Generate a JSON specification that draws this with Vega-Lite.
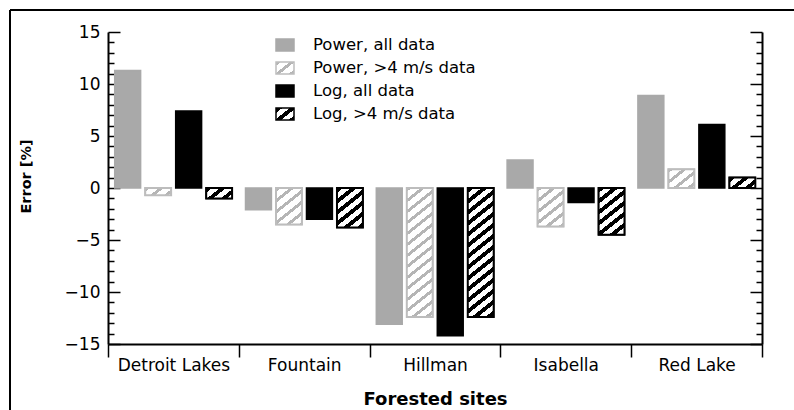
{
  "$schema": "https://vega.github.io/schema/vega-lite/v6.json",
  "width": 784,
  "height": 400,
  "autosize": {"type": "none"},
  "padding": {"left": 10, "top": 10, "right": 0, "bottom": 0},
  "background": "white",
  "config": {"view": {"stroke": "#000000", "strokeWidth": 2, "strokeDash": [784, 1184, 400, 0]}, "font": "DejaVu Sans"},
  "params": [
    {"name": "gStops", "value": [
      {"offset":0,"color":"#b5b5b5"},{"offset":0.0219,"color":"#b5b5b5"},{"offset":0.0219,"color":"#fff"},{"offset":0.0625,"color":"#fff"},
      {"offset":0.0625,"color":"#b5b5b5"},{"offset":0.0844,"color":"#b5b5b5"},{"offset":0.0844,"color":"#fff"},{"offset":0.125,"color":"#fff"},
      {"offset":0.125,"color":"#b5b5b5"},{"offset":0.1469,"color":"#b5b5b5"},{"offset":0.1469,"color":"#fff"},{"offset":0.1875,"color":"#fff"},
      {"offset":0.1875,"color":"#b5b5b5"},{"offset":0.2094,"color":"#b5b5b5"},{"offset":0.2094,"color":"#fff"},{"offset":0.25,"color":"#fff"},
      {"offset":0.25,"color":"#b5b5b5"},{"offset":0.2719,"color":"#b5b5b5"},{"offset":0.2719,"color":"#fff"},{"offset":0.3125,"color":"#fff"},
      {"offset":0.3125,"color":"#b5b5b5"},{"offset":0.3344,"color":"#b5b5b5"},{"offset":0.3344,"color":"#fff"},{"offset":0.375,"color":"#fff"},
      {"offset":0.375,"color":"#b5b5b5"},{"offset":0.3969,"color":"#b5b5b5"},{"offset":0.3969,"color":"#fff"},{"offset":0.4375,"color":"#fff"},
      {"offset":0.4375,"color":"#b5b5b5"},{"offset":0.4594,"color":"#b5b5b5"},{"offset":0.4594,"color":"#fff"},{"offset":0.5,"color":"#fff"},
      {"offset":0.5,"color":"#b5b5b5"},{"offset":0.5219,"color":"#b5b5b5"},{"offset":0.5219,"color":"#fff"},{"offset":0.5625,"color":"#fff"},
      {"offset":0.5625,"color":"#b5b5b5"},{"offset":0.5844,"color":"#b5b5b5"},{"offset":0.5844,"color":"#fff"},{"offset":0.625,"color":"#fff"},
      {"offset":0.625,"color":"#b5b5b5"},{"offset":0.6469,"color":"#b5b5b5"},{"offset":0.6469,"color":"#fff"},{"offset":0.6875,"color":"#fff"},
      {"offset":0.6875,"color":"#b5b5b5"},{"offset":0.7094,"color":"#b5b5b5"},{"offset":0.7094,"color":"#fff"},{"offset":0.75,"color":"#fff"},
      {"offset":0.75,"color":"#b5b5b5"},{"offset":0.7719,"color":"#b5b5b5"},{"offset":0.7719,"color":"#fff"},{"offset":0.8125,"color":"#fff"},
      {"offset":0.8125,"color":"#b5b5b5"},{"offset":0.8344,"color":"#b5b5b5"},{"offset":0.8344,"color":"#fff"},{"offset":0.875,"color":"#fff"},
      {"offset":0.875,"color":"#b5b5b5"},{"offset":0.8969,"color":"#b5b5b5"},{"offset":0.8969,"color":"#fff"},{"offset":0.9375,"color":"#fff"},
      {"offset":0.9375,"color":"#b5b5b5"},{"offset":0.9594,"color":"#b5b5b5"},{"offset":0.9594,"color":"#fff"},{"offset":1,"color":"#fff"}
    ]},
    {"name": "kStops", "value": [
      {"offset":0,"color":"#000"},{"offset":0.0281,"color":"#000"},{"offset":0.0281,"color":"#fff"},{"offset":0.0625,"color":"#fff"},
      {"offset":0.0625,"color":"#000"},{"offset":0.0906,"color":"#000"},{"offset":0.0906,"color":"#fff"},{"offset":0.125,"color":"#fff"},
      {"offset":0.125,"color":"#000"},{"offset":0.1531,"color":"#000"},{"offset":0.1531,"color":"#fff"},{"offset":0.1875,"color":"#fff"},
      {"offset":0.1875,"color":"#000"},{"offset":0.2156,"color":"#000"},{"offset":0.2156,"color":"#fff"},{"offset":0.25,"color":"#fff"},
      {"offset":0.25,"color":"#000"},{"offset":0.2781,"color":"#000"},{"offset":0.2781,"color":"#fff"},{"offset":0.3125,"color":"#fff"},
      {"offset":0.3125,"color":"#000"},{"offset":0.3406,"color":"#000"},{"offset":0.3406,"color":"#fff"},{"offset":0.375,"color":"#fff"},
      {"offset":0.375,"color":"#000"},{"offset":0.4031,"color":"#000"},{"offset":0.4031,"color":"#fff"},{"offset":0.4375,"color":"#fff"},
      {"offset":0.4375,"color":"#000"},{"offset":0.4656,"color":"#000"},{"offset":0.4656,"color":"#fff"},{"offset":0.5,"color":"#fff"},
      {"offset":0.5,"color":"#000"},{"offset":0.5281,"color":"#000"},{"offset":0.5281,"color":"#fff"},{"offset":0.5625,"color":"#fff"},
      {"offset":0.5625,"color":"#000"},{"offset":0.5906,"color":"#000"},{"offset":0.5906,"color":"#fff"},{"offset":0.625,"color":"#fff"},
      {"offset":0.625,"color":"#000"},{"offset":0.6531,"color":"#000"},{"offset":0.6531,"color":"#fff"},{"offset":0.6875,"color":"#fff"},
      {"offset":0.6875,"color":"#000"},{"offset":0.7156,"color":"#000"},{"offset":0.7156,"color":"#fff"},{"offset":0.75,"color":"#fff"},
      {"offset":0.75,"color":"#000"},{"offset":0.7781,"color":"#000"},{"offset":0.7781,"color":"#fff"},{"offset":0.8125,"color":"#fff"},
      {"offset":0.8125,"color":"#000"},{"offset":0.8406,"color":"#000"},{"offset":0.8406,"color":"#fff"},{"offset":0.875,"color":"#fff"},
      {"offset":0.875,"color":"#000"},{"offset":0.9031,"color":"#000"},{"offset":0.9031,"color":"#fff"},{"offset":0.9375,"color":"#fff"},
      {"offset":0.9375,"color":"#000"},{"offset":0.9656,"color":"#000"},{"offset":0.9656,"color":"#fff"},{"offset":1,"color":"#fff"}
    ]}
  ],
  "data": {"values": [
    {"site": "Detroit Lakes", "series": "Power, all data", "error": 11.3},
    {"site": "Detroit Lakes", "series": "Power, >4 m/s data", "error": -0.7},
    {"site": "Detroit Lakes", "series": "Log, all data", "error": 7.4},
    {"site": "Detroit Lakes", "series": "Log, >4 m/s data", "error": -1.0},
    {"site": "Fountain", "series": "Power, all data", "error": -2.1},
    {"site": "Fountain", "series": "Power, >4 m/s data", "error": -3.5},
    {"site": "Fountain", "series": "Log, all data", "error": -3.0},
    {"site": "Fountain", "series": "Log, >4 m/s data", "error": -3.8},
    {"site": "Hillman", "series": "Power, all data", "error": -13.1},
    {"site": "Hillman", "series": "Power, >4 m/s data", "error": -12.4},
    {"site": "Hillman", "series": "Log, all data", "error": -14.2},
    {"site": "Hillman", "series": "Log, >4 m/s data", "error": -12.4},
    {"site": "Isabella", "series": "Power, all data", "error": 2.7},
    {"site": "Isabella", "series": "Power, >4 m/s data", "error": -3.7},
    {"site": "Isabella", "series": "Log, all data", "error": -1.4},
    {"site": "Isabella", "series": "Log, >4 m/s data", "error": -4.5},
    {"site": "Red Lake", "series": "Power, all data", "error": 8.9},
    {"site": "Red Lake", "series": "Power, >4 m/s data", "error": 1.8},
    {"site": "Red Lake", "series": "Log, all data", "error": 6.1},
    {"site": "Red Lake", "series": "Log, >4 m/s data", "error": 1.0}
  ]},
  "encoding": {
    "x": {
      "field": "site", "type": "nominal",
      "sort": ["Detroit Lakes", "Fountain", "Hillman", "Isabella", "Red Lake"],
      "scale": {"paddingInner": 0, "paddingOuter": 0, "range": [98, 752]},
      "axis": {
        "orient": "bottom", "offset": -66, "title": "Forested sites", "tickBand": "extent",
        "tickSize": 13, "tickWidth": 1.5, "tickColor": "#000",
        "domainColor": "#000", "domainWidth": 2, "labelAngle": 0,
        "labelFont": "DejaVu Sans", "labelFontSize": 17, "labelColor": "#000", "labelPadding": 0,
        "titleFont": "DejaVu Sans", "titleFontSize": 18, "titleFontWeight": "bold", "titleColor": "#000",
        "titleX": 425, "titleY": 46, "grid": false
      }
    },
    "xOffset": {
      "field": "series", "type": "nominal",
      "sort": ["Power, all data", "Power, >4 m/s data", "Log, all data", "Log, >4 m/s data"],
      "scale": {"paddingInner": 0.15, "paddingOuter": 0.22}
    }
  },
  "layer": [
    {
      "mark": {"type": "bar", "strokeWidth": 1.5},
      "encoding": {
        "y": {
          "field": "error", "type": "quantitative",
          "scale": {"domain": [-15, 15], "nice": false, "zero": false, "range": [334, 22]},
          "axis": {
            "orient": "left", "offset": -98,
            "values": [-15,-14,-13,-12,-11,-10,-9,-8,-7,-6,-5,-4,-3,-2,-1,0,1,2,3,4,5,6,7,8,9,10,11,12,13,14,15],
            "tickSize": {"condition": {"test": "datum.value % 5 === 0", "value": -12}, "value": -6},
            "labelExpr": "datum.value % 5 === 0 ? datum.label : ''",
            "labelPadding": 20, "labelFont": "DejaVu Sans", "labelFontSize": 17, "labelColor": "#000",
            "labelOverlap": false, "labelFlush": false, "labelBound": false,
            "domainColor": "#000", "domainWidth": 2, "tickColor": "#000", "tickWidth": 1.5, "grid": false,
            "title": "Error [%]", "titleFont": "DejaVu Sans", "titleFontSize": 14.5, "titleFontWeight": "bold", "titleColor": "#000",
            "titleX": -75, "titleY": 166, "titleAngle": -90, "titleBaseline": "bottom", "titleAlign": "center"
          }
        },
        "fill": {
          "field": "series", "type": "nominal",
          "scale": {
            "domain": ["Power, all data", "Power, >4 m/s data", "Log, all data", "Log, >4 m/s data"],
            "range": [
              "#a9a9a9",
              {"expr": "{gradient: 'linear', x1: 0, y1: 0, x2: 7.213, y2: 6.011, stops: gStops}"},
              "#000000",
              {"expr": "{gradient: 'linear', x1: 0, y1: 0, x2: 7.213, y2: 6.011, stops: kStops}"}
            ]
          },
          "legend": {
            "title": null, "orient": "none", "legendX": 265, "legendY": 25,
            "symbolType": "M-1,-0.667H1V0.667H-1Z", "symbolSize": 324, "symbolOpacity": 1,
            "symbolStrokeWidth": 1.5,
            "labelFont": "DejaVu Sans", "labelFontSize": 16.5, "labelColor": "#000", "labelOffset": 18,
            "labelLimit": 0, "rowPadding": 3, "padding": 0
          }
        },
        "stroke": {
          "field": "series", "type": "nominal",
          "scale": {
            "domain": ["Power, all data", "Power, >4 m/s data", "Log, all data", "Log, >4 m/s data"],
            "range": ["#a9a9a9", "#bdbdbd", "#000000", "#000000"]
          },
          "legend": {
            "title": null, "orient": "none", "legendX": 265, "legendY": 25,
            "symbolType": "M-1,-0.667H1V0.667H-1Z", "symbolSize": 324, "symbolOpacity": 1,
            "symbolStrokeWidth": 1.5,
            "labelFont": "DejaVu Sans", "labelFontSize": 16.5, "labelColor": "#000", "labelOffset": 18,
            "labelLimit": 0, "rowPadding": 3, "padding": 0
          }
        }
      }
    },
    {
      "transform": [{"filter": "datum.series === 'Power, >4 m/s data' || datum.series === 'Log, >4 m/s data'"}],
      "mark": {
        "type": "bar", "strokeWidth": 2,
        "fill": {"expr": "{gradient: 'linear', x1: 0, y1: 0, x2: 140.8*bandwidth('xOffset')/(0.64*pow(bandwidth('xOffset'),2)+pow(scale('y',datum.error)-scale('y',0),2)), y2: 176*abs(scale('y',datum.error)-scale('y',0))/(0.64*pow(bandwidth('xOffset'),2)+pow(scale('y',datum.error)-scale('y',0),2)), stops: datum.series === 'Log, >4 m/s data' ? kStops : gStops}"},
        "stroke": {"expr": "datum.series === 'Log, >4 m/s data' ? '#000000' : '#bdbdbd'"}
      },
      "encoding": {
        "y": {
          "field": "error", "type": "quantitative",
          "scale": {"domain": [-15, 15], "nice": false, "zero": false, "range": [334, 22]},
          "axis": {
            "orient": "right", "offset": -32,
            "values": [-15,-14,-13,-12,-11,-10,-9,-8,-7,-6,-5,-4,-3,-2,-1,0,1,2,3,4,5,6,7,8,9,10,11,12,13,14,15],
            "tickSize": {"condition": {"test": "datum.value % 5 === 0", "value": -12}, "value": -6},
            "labels": false, "title": null,
            "domainColor": "#000", "domainWidth": 2, "tickColor": "#000", "tickWidth": 1.5, "grid": false
          }
        }
      }
    }
  ],
  "resolve": {"axis": {"y": "independent"}}
}
